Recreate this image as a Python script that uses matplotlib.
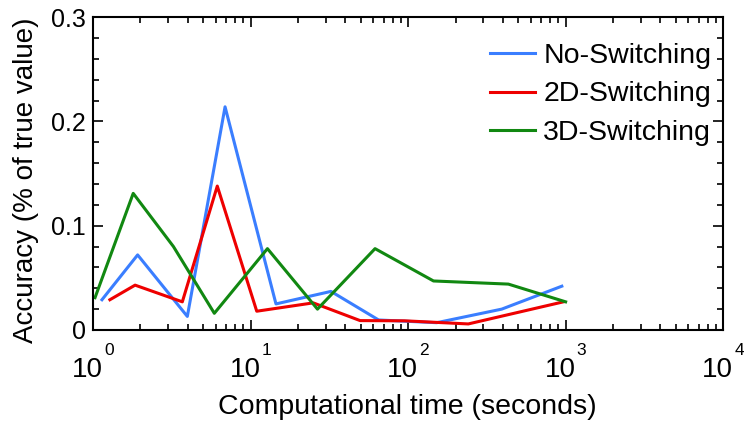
import numpy as np
import matplotlib
matplotlib.use("Agg")
import matplotlib.pyplot as plt
from matplotlib.ticker import FixedLocator, FuncFormatter, NullFormatter

plt.rcParams['font.family'] = ['Liberation Sans', 'DejaVu Sans']

t_none = [1.14, 1.92, 3.97, 6.89, 14.5, 32.4, 65, 152, 393, 946]
acc_none = [0.029, 0.072, 0.013, 0.214, 0.025, 0.037, 0.0096, 0.007, 0.020, 0.042]

t_2d = [1.28, 1.85, 3.69, 6.15, 10.95, 25.0, 49.6, 95, 241, 968]
acc_2d = [0.029, 0.043, 0.027, 0.138, 0.018, 0.026, 0.009, 0.0088, 0.0058, 0.027]

t_3d = [1.03, 1.80, 3.24, 5.89, 12.8, 26.6, 61.7, 145, 433, 1000]
acc_3d = [0.031, 0.131, 0.080, 0.016, 0.078, 0.020, 0.078, 0.047, 0.044, 0.027]

decades = [0, 1, 2, 3, 4]

fig = plt.figure(figsize=(7.44, 4.28), dpi=100)
ax = fig.add_axes([0.125, 0.229, 0.847, 0.731])

ax.plot(t_none, acc_none, color='#3a7eff', lw=2.2, label='No-Switching')
ax.plot(t_2d, acc_2d, color='#ee0000', lw=2.2, label='2D-Switching')
ax.plot(t_3d, acc_3d, color='#118811', lw=2.2, label='3D-Switching')

ax.set_xscale('log')
ax.set_xlim(1, 1e4)
ax.set_ylim(0, 0.3)
ax.set_yticks([0, 0.1, 0.2, 0.3])
ax.yaxis.set_minor_locator(FixedLocator(np.arange(0, 0.3, 0.02)))
ax.yaxis.set_major_formatter(FuncFormatter(lambda v, p: '0' if v == 0 else '%.1f' % v))
ax.xaxis.set_major_formatter(NullFormatter())
ax.xaxis.set_minor_formatter(NullFormatter())

# 10^n labels, MATLAB style: exponent set well above the base
for d in decades:
    ax.annotate('10', xy=(10.0 ** d, 0), xycoords=('data', 'axes fraction'),
                xytext=(-4, -29), textcoords='offset points',
                ha='center', va='center', fontsize=20)
    ax.annotate(str(d), xy=(10.0 ** d, 0), xycoords=('data', 'axes fraction'),
                xytext=(8, -15), textcoords='offset points',
                ha='left', va='center', fontsize=12.5)

ax.tick_params(which='both', direction='in', top=True, right=True, width=1.2)
ax.tick_params(axis='y', labelsize=18, pad=5)
ax.tick_params(which='major', length=7.5)
ax.tick_params(which='minor', length=4.5)
for s in ax.spines.values():
    s.set_linewidth(1.5)

ax.set_xlabel('Computational time (seconds)', fontsize=20.5)
ax.xaxis.set_label_coords(0.499, -0.205)
ax.set_ylabel('Accuracy (% of true value)', fontsize=20)
ax.yaxis.set_label_coords(-0.086, 0.48)

ax.legend(loc='upper right', frameon=False, fontsize=20.5, handlelength=1.55,
          handletextpad=0.3, labelspacing=0.44, borderaxespad=0.2,
          bbox_to_anchor=(1.008, 0.972))

fig.savefig('out.png', dpi=100)
